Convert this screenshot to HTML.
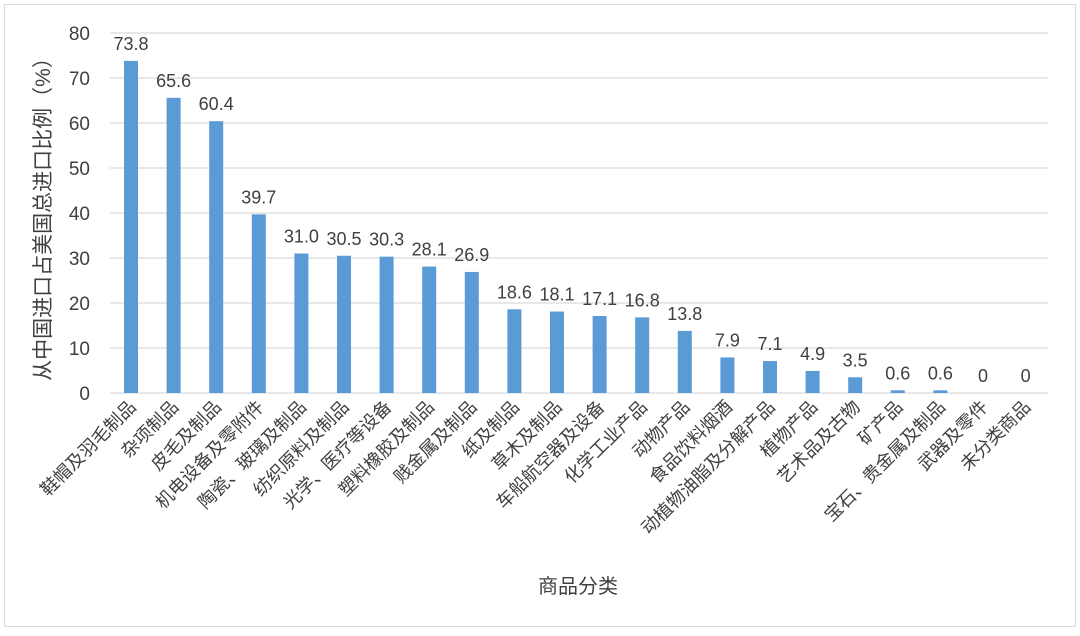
<!DOCTYPE html>
<html><head><meta charset="utf-8"><style>
body{margin:0;background:#fff;}
svg text{font-family:"Liberation Sans","Noto Sans CJK SC",sans-serif;fill:#404040;}
</style></head><body>
<svg width="1080" height="631" xmlns="http://www.w3.org/2000/svg">
<rect x="4.5" y="4.5" width="1071" height="622" fill="#fff" stroke="#d9d9d9"/>
<g id="g"></g>
</svg>
<script>
const vals=[73.8,65.6,60.4,39.7,31.0,30.5,30.3,28.1,26.9,18.6,18.1,17.1,16.8,13.8,7.9,7.1,4.9,3.5,0.6,0.6,0,0];
const cats=["鞋帽及羽毛制品","杂项制品","皮毛及制品","机电设备及零附件","陶瓷、玻璃及制品","纺织原料及制品","光学、医疗等设备","塑料橡胶及制品","贱金属及制品","纸及制品","草木及制品","车船航空器及设备","化学工业产品","动物产品","食品饮料烟酒","动植物油脂及分解产品","植物产品","艺术品及古物","矿产品","宝石、贵金属及制品","武器及零件","未分类商品"];
const y0=393,k=4.5;let s='';
for(let i=0;i<=8;i++){const y=y0-i*45;s+=`<line x1="110" x2="1048" y1="${y}" y2="${y}" stroke="#d9d9d9" stroke-width="1.2"/><text x="90" y="${y+7}" font-size="19" text-anchor="end">${i*10}</text>`;}
vals.forEach((v,i)=>{const cx=131+i*42.6;const h=v*k;const top=y0-h;
if(h>0)s+=`<rect x="${cx-7}" y="${top}" width="14" height="${Math.max(h,1.5)}" fill="#5b9bd5"/>`;
const t=(v===0)?'0':v.toFixed(1);
s+=`<text x="${cx}" y="${top-11}" font-size="18" text-anchor="middle">${t}</text>`;
s+=`<text transform="translate(${cx+6},${y0+15}) rotate(-45)" font-size="18" text-anchor="end" font-family="Noto Sans CJK SC,sans-serif">${cats[i]}</text>`;
});
s+=`<text transform="translate(50,214) rotate(-90)" font-size="21" text-anchor="middle" font-family="Noto Sans CJK SC,sans-serif">从中国进口占美国总进口比例（%）</text>`;
s+=`<text x="578" y="593" font-size="20" text-anchor="middle" font-family="Noto Sans CJK SC,sans-serif">商品分类</text>`;
document.getElementById('g').innerHTML=s;
</script>
</body></html>
